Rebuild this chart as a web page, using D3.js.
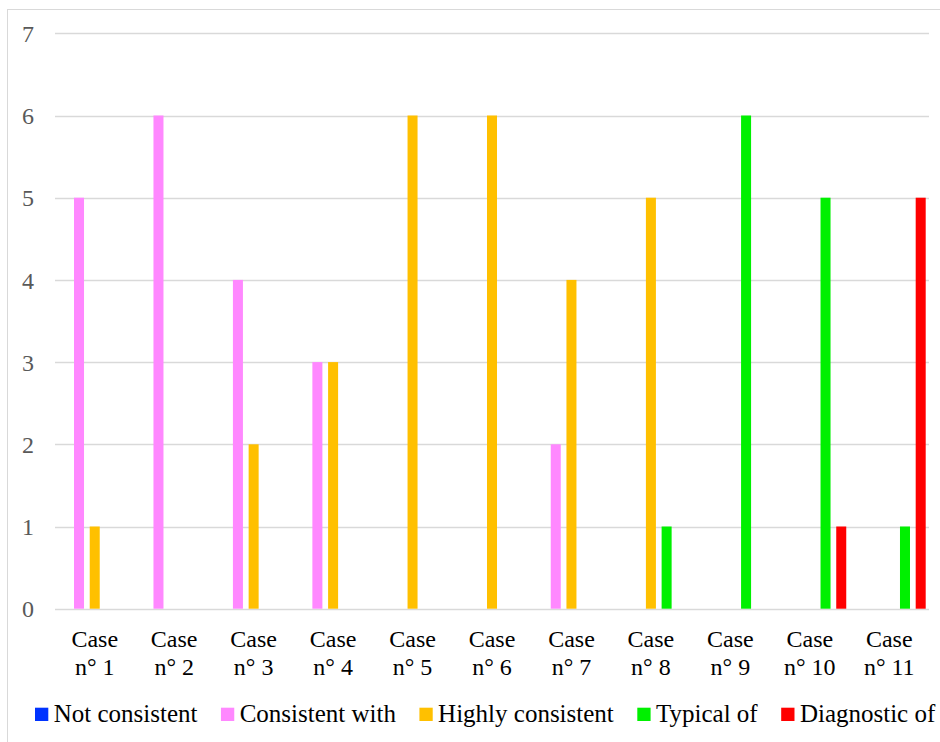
<!DOCTYPE html>
<html>
<head>
<meta charset="utf-8">
<script src="https://cdn.jsdelivr.net/npm/d3@7/dist/d3.min.js"></script>
<style>
  html, body { margin: 0; padding: 0; background: #fff; }
  svg { display: block; }
</style>
</head>
<body>
<svg id="chart" width="940" height="742"></svg>
<script>
// Case labels (two lines each)
const categories = ["Case\nn° 1", "Case\nn° 2", "Case\nn° 3", "Case\nn° 4", "Case\nn° 5", "Case\nn° 6",
                    "Case\nn° 7", "Case\nn° 8", "Case\nn° 9", "Case\nn° 10", "Case\nn° 11"];

// Series names and colours
const seriesNames = ["Not consistent", "Consistent with", "Highly consistent", "Typical of", "Diagnostic of"];
const seriesColors = ["#0033FF", "#FF88FF", "#FFC000", "#00F000", "#FF0000"];

// Counts per case for each series
const notConsistent    = [0, 0, 0, 0, 0, 0, 0, 0, 0, 0, 0];
const consistentWith   = [5, 6, 4, 3, 0, 0, 2, 0, 0, 0, 0];
const highlyConsistent = [1, 0, 2, 3, 6, 6, 4, 5, 0, 0, 0];
const typicalOf        = [0, 0, 0, 0, 0, 0, 0, 1, 6, 5, 1];
const diagnosticOf     = [0, 0, 0, 0, 0, 0, 0, 0, 0, 1, 5];

const yTicks = [0, 1, 2, 3, 4, 5, 6, 7];

const seriesValues = [notConsistent, consistentWith, highlyConsistent, typicalOf, diagnosticOf];

const FONT = "Liberation Serif";
const FS = "24px";
const LEGEND_FS = "25px";

const svg = d3.select("#chart");
const W = 940, H = 742;

// Chart frame
svg.append("rect")
  .attr("x", 7.5).attr("y", 9.5)
  .attr("width", W + 10).attr("height", H + 10)
  .attr("fill", "#fff")
  .attr("stroke", "#d9d9d9").attr("stroke-width", 1);

const plot = { left: 55, right: 929, top: 33.3, bottom: 608.7 };

const x0 = d3.scaleBand()
  .domain(d3.range(categories.length))
  .range([plot.left, plot.right])
  .padding(0);

const x1 = d3.scaleBand()
  .domain(d3.range(seriesNames.length))
  .range([0, x0.bandwidth()])
  .paddingInner(0.363)
  .paddingOuter(0.21);

const y = d3.scaleLinear()
  .domain([0, 7])
  .range([plot.bottom, plot.top]);

// Horizontal gridlines
svg.append("g")
  .selectAll("line")
  .data(yTicks)
  .join("line")
  .attr("x1", plot.left).attr("x2", plot.right)
  .attr("y1", d => Math.round(y(d)) + 0.5)
  .attr("y2", d => Math.round(y(d)) + 0.5)
  .attr("stroke", "#d9d9d9")
  .attr("stroke-width", 1.5);

// Y axis labels
const yAxis = d3.axisLeft(y).tickValues(yTicks).tickFormat(d3.format("d")).tickSize(0).tickPadding(0);
const yg = svg.append("g")
  .attr("transform", "translate(34,0)")
  .call(yAxis);
yg.select(".domain").remove();
yg.selectAll("text")
  .style("font-family", FONT)
  .style("font-size", FS)
  .attr("fill", "#595959")
  .attr("dy", "0.34em");

// Bars
const groups = svg.append("g")
  .selectAll("g")
  .data(categories.map((c, i) => i))
  .join("g")
  .attr("transform", i => `translate(${x0(i)},0)`);

groups.selectAll("rect")
  .data(i => seriesValues.map((vals, s) => ({ s, v: vals[i] })).filter(d => d.v > 0))
  .join("rect")
  .attr("x", d => x1(d.s))
  .attr("width", x1.bandwidth())
  .attr("y", d => y(d.v))
  .attr("height", d => y(0) - y(d.v))
  .attr("fill", d => seriesColors[d.s]);

// X axis labels (two lines)
const xAxis = d3.axisBottom(x0).tickSize(0).tickFormat("");
const xg = svg.append("g")
  .attr("transform", `translate(0,${plot.bottom})`)
  .call(xAxis);
xg.select(".domain").remove();
xg.selectAll(".tick").each(function(i) {
  const lines = categories[i].split("\n");
  const t = d3.select(this).append("text")
    .style("font-family", FONT)
    .style("font-size", FS)
    .attr("text-anchor", "middle")
    .attr("fill", "#000");
  lines.forEach((ln, k) => {
    t.append("tspan")
      .attr("x", 0)
      .attr("y", 38 + k * 28.5)
      .text(ln);
  });
});

// Legend
const legend = svg.append("g").attr("transform", "translate(35,714.3)");
let lx = 0;
seriesNames.forEach((name, s) => {
  const item = legend.append("g").attr("transform", `translate(${lx},0)`);
  item.append("rect")
    .attr("x", 0).attr("y", -6.6)
    .attr("width", 13.3).attr("height", 13.3)
    .attr("fill", seriesColors[s]);
  const t = item.append("text")
    .style("font-family", FONT)
    .style("font-size", LEGEND_FS)
    .attr("x", 18.7).attr("y", 7.6)
    .attr("fill", "#000")
    .text(name);
  lx += 18.7 + t.node().getComputedTextLength() + 23.5;
});
</script>
</body>
</html>
